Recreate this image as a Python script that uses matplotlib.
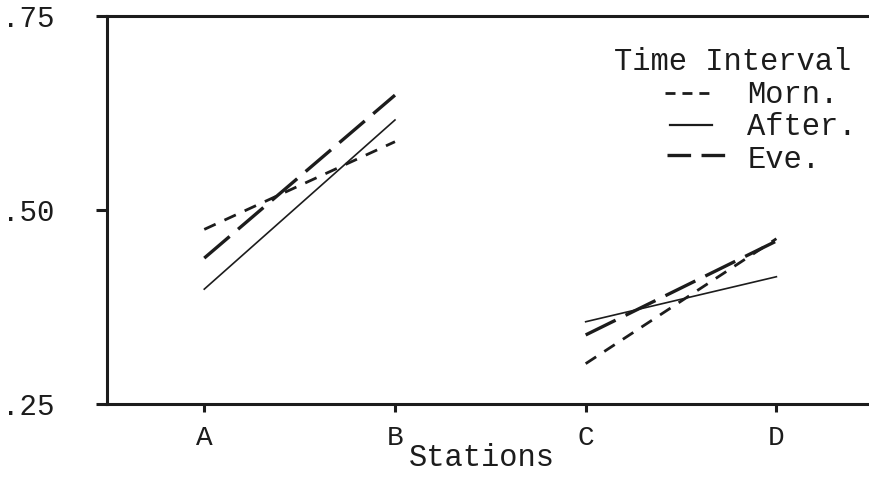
#!/usr/bin/env python
# coding: utf-8
# interaction plot: station x time interval

import matplotlib
matplotlib.use("Agg")
import matplotlib.pyplot as plt


stations = ["A", "B", "C", "D"]
morn = [0.475, 0.588, 0.302, 0.463]
after = [0.398, 0.616, 0.356, 0.414]
eve = [0.438, 0.648, 0.339, 0.460]
yticks = [0.25, 0.50, 0.75]
ytick_labels = [".25", ".50", ".75"]
series_names = ["Morn.", "After.", "Eve."]


def main():

	plt.rcParams['font.family'] = ['Liberation Mono', 'DejaVu Sans Mono']
	plt.rcParams['lines.scale_dashes'] = False
	ink = "#1c1c1c"

	fig = plt.figure(figsize=(8.7, 4.84), dpi=100)
	ax = fig.add_axes([107 / 870, 80 / 484, 780 / 870, 388 / 484])

	x = list(range(len(stations)))
	styles = [
		dict(lw=2.0, dashes=(9, 7)),
		dict(lw=1.2),
		dict(lw=2.4, dashes=(24, 8)),
	]
	for vals, st in zip([morn, after, eve], styles):
		# A-B and C-D drawn as separate segments
		ax.plot(x[:2], vals[:2], color=ink, **st)
		ax.plot(x[2:], vals[2:], color=ink, **st)

	ax.set_xlim(-0.51, 3.58)
	ax.set_ylim(0.25, 0.75)
	ax.set_xticks(x)
	ax.set_xticklabels(stations, fontsize=20)
	ax.set_yticks(yticks)
	ax.set_yticklabels(ytick_labels, fontsize=21)
	ax.tick_params(axis='y', direction='out', length=8, width=2.2, pad=30, colors=ink)
	ax.tick_params(axis='x', direction='out', length=6, width=2.2, pad=9, colors=ink)

	for side in ['left', 'top', 'bottom']:
		ax.spines[side].set_linewidth(2.2)
		ax.spines[side].set_color(ink)
	ax.spines['right'].set_visible(False)

	ax.set_xlabel("Stations", fontsize=22, color=ink)
	ax.xaxis.set_label_coords(0.48, -0.1)

	# hand-made key like the typed original
	tr = ax.transAxes
	ax.text(0.650, 0.861, "Time Interval", transform=tr, fontsize=22, va='baseline', color=ink)
	baselines = [0.776, 0.693, 0.608]
	line_y = [0.802, 0.719, 0.642]
	handles = [(0.715, 0.773), (0.722, 0.776), (0.718, 0.792)]
	key_styles = [
		dict(lw=2.0, dashes=(7.2, 5)),
		dict(lw=1.6),
		dict(lw=2.4, dashes=(17, 7.5)),
	]
	for name, yb, yl, (x0, x1), st in zip(series_names, baselines, line_y, handles, key_styles):
		ax.plot([x0, x1], [yl, yl], transform=tr, color=ink, clip_on=False, **st)
		ax.text(0.821, yb, name, transform=tr, fontsize=22, va='baseline', color=ink)

	fig.savefig("out.png", dpi=100, facecolor='white')


if __name__ == '__main__':
	main()
